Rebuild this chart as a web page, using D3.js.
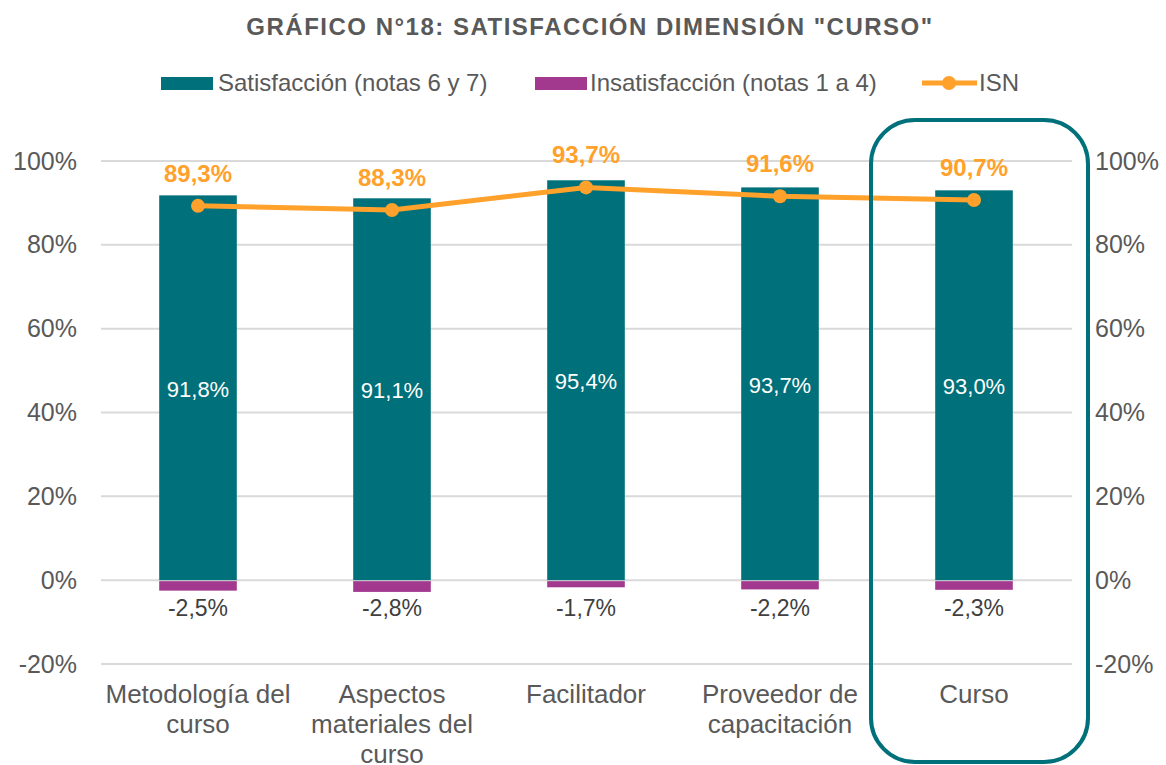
<!DOCTYPE html>
<html>
<head>
<meta charset="utf-8">
<script src="https://cdn.jsdelivr.net/npm/d3@7"></script>
<style>
  body { margin: 0; background: #fff; }
  text { font-family: "Liberation Sans", Arial, sans-serif; }
</style>
</head>
<body>
<div id="chart"></div>
<script>
const width = 1166;
const height = 765;

// datos
const categorias = [
    ["Metodología del", "curso"],
    ["Aspectos", "materiales del", "curso"],
    ["Facilitador"],
    ["Proveedor de", "capacitación"],
    ["Curso"]
];
const satisfaccion = [91.8, 91.1, 95.4, 93.7, 93.0];
const insatisfaccion = [-2.5, -2.8, -1.7, -2.2, -2.3];
const isn = [89.3, 88.3, 93.7, 91.6, 90.7];
const ticks = [-20, 0, 20, 40, 60, 80, 100];

const teal = "#00707a";
const purple = "#a3388f";
const orange = "#ffa12b";
const gray = "#595959";

const fmt = v => v.toFixed(1).replace(".", ",") + "%";

let svg = d3.select("#chart").append("svg")
    .attr("width", width)
    .attr("height", height);

let x = d3.scaleBand()
    .domain(d3.range(categorias.length))
    .range([101, 1071])
    .paddingInner(0.6)
    .paddingOuter(0.3);

let y = d3.scaleLinear()
    .domain([-20, 100])
    .range([664, 161]);

const cx = i => x(i) + x.bandwidth() / 2;

// titulo
svg.append("text")
    .attr("x", 590)
    .attr("y", 35)
    .attr("text-anchor", "middle")
    .style("font-size", "24px")
    .style("font-weight", "bold")
    .style("letter-spacing", "1.5px")
    .attr("fill", gray)
    .text('GRÁFICO N°18: SATISFACCIÓN DIMENSIÓN "CURSO"');

// grilla
svg.append("g")
    .selectAll("line")
    .data(ticks)
    .enter()
    .append("line")
    .attr("x1", 101)
    .attr("x2", 1072)
    .attr("y1", d => y(d))
    .attr("y2", d => y(d))
    .attr("stroke", "#d9d9d9")
    .attr("stroke-width", 2);

// ejes
let yLeft = svg.append("g")
    .attr("transform", "translate(77,0)")
    .call(d3.axisLeft(y).tickValues(ticks).tickSize(0).tickFormat(d => d + "%"));
let yRight = svg.append("g")
    .attr("transform", "translate(1095,0)")
    .call(d3.axisRight(y).tickValues(ticks).tickSize(0).tickFormat(d => d + "%"));
[yLeft, yRight].forEach(a => {
    a.select(".domain").remove();
    a.selectAll("text")
        .style("font-size", "25px")
        .style("font-family", "Liberation Sans, Arial, sans-serif")
        .attr("fill", gray)
        .attr("x", 0);
});

// barras
svg.append("g")
    .selectAll("rect")
    .data(satisfaccion)
    .enter()
    .append("rect")
    .attr("x", (d, i) => x(i))
    .attr("width", x.bandwidth())
    .attr("y", d => y(d))
    .attr("height", d => y(0) - y(d))
    .attr("fill", teal);

svg.append("g")
    .selectAll("rect")
    .data(insatisfaccion)
    .enter()
    .append("rect")
    .attr("x", (d, i) => x(i))
    .attr("width", x.bandwidth())
    .attr("y", y(0) + 1)
    .attr("height", d => y(d) - y(0) - 1)
    .attr("fill", purple);

// etiquetas de barras
svg.append("g")
    .selectAll("text")
    .data(satisfaccion)
    .enter()
    .append("text")
    .attr("x", (d, i) => cx(i))
    .attr("y", d => y(d / 2) + 9)
    .attr("text-anchor", "middle")
    .style("font-size", "22px")
    .attr("fill", "#fff")
    .text(d => fmt(d));

svg.append("g")
    .selectAll("text")
    .data(insatisfaccion)
    .enter()
    .append("text")
    .attr("x", (d, i) => cx(i))
    .attr("y", 616)
    .attr("text-anchor", "middle")
    .style("font-size", "23px")
    .attr("fill", "#404040")
    .text(d => fmt(d));

// linea ISN
let line = d3.line()
    .x((d, i) => cx(i))
    .y(d => y(d));

svg.append("path")
    .datum(isn)
    .attr("d", line)
    .attr("fill", "none")
    .attr("stroke", orange)
    .attr("stroke-width", 5);

svg.append("g")
    .selectAll("circle")
    .data(isn)
    .enter()
    .append("circle")
    .attr("cx", (d, i) => cx(i))
    .attr("cy", d => y(d))
    .attr("r", 7)
    .attr("fill", orange);

svg.append("g")
    .selectAll("text")
    .data(isn)
    .enter()
    .append("text")
    .attr("x", (d, i) => cx(i))
    .attr("y", d => y(d) - 24)
    .attr("text-anchor", "middle")
    .style("font-size", "24px")
    .style("font-weight", "bold")
    .attr("fill", orange)
    .text(d => fmt(d));

// categorias
let cats = svg.append("g")
    .selectAll("text")
    .data(categorias)
    .enter()
    .append("text")
    .attr("x", (d, i) => cx(i))
    .attr("y", 703)
    .attr("text-anchor", "middle")
    .style("font-size", "26px")
    .attr("fill", gray);
cats.selectAll("tspan")
    .data(d => d)
    .enter()
    .append("tspan")
    .attr("x", function() { return this.parentNode.getAttribute("x"); })
    .attr("dy", (d, i) => i === 0 ? 0 : 30)
    .text(d => d);

// recuadro destacado
svg.append("rect")
    .attr("x", cx(4) - 103)
    .attr("y", 120)
    .attr("width", 217)
    .attr("height", 642)
    .attr("rx", 44)
    .attr("fill", "none")
    .attr("stroke", teal)
    .attr("stroke-width", 4);

// leyenda
let legend = svg.append("g").attr("transform", "translate(0,83)");
legend.append("rect").attr("x", 161).attr("y", -6).attr("width", 52).attr("height", 13).attr("fill", teal);
legend.append("text").attr("x", 218).attr("y", 8).style("font-size", "24px").attr("fill", gray)
    .text("Satisfacción (notas 6 y 7)");
legend.append("rect").attr("x", 535).attr("y", -6).attr("width", 52).attr("height", 13).attr("fill", purple);
legend.append("text").attr("x", 590).attr("y", 8).style("font-size", "24px").attr("fill", gray)
    .text("Insatisfacción (notas 1 a 4)");
legend.append("line").attr("x1", 922).attr("x2", 977).attr("y1", 0).attr("y2", 0)
    .attr("stroke", orange).attr("stroke-width", 5);
legend.append("circle").attr("cx", 949).attr("cy", 0).attr("r", 7).attr("fill", orange);
legend.append("text").attr("x", 979).attr("y", 8).style("font-size", "24px").attr("fill", gray)
    .text("ISN");
</script>
</body>
</html>
